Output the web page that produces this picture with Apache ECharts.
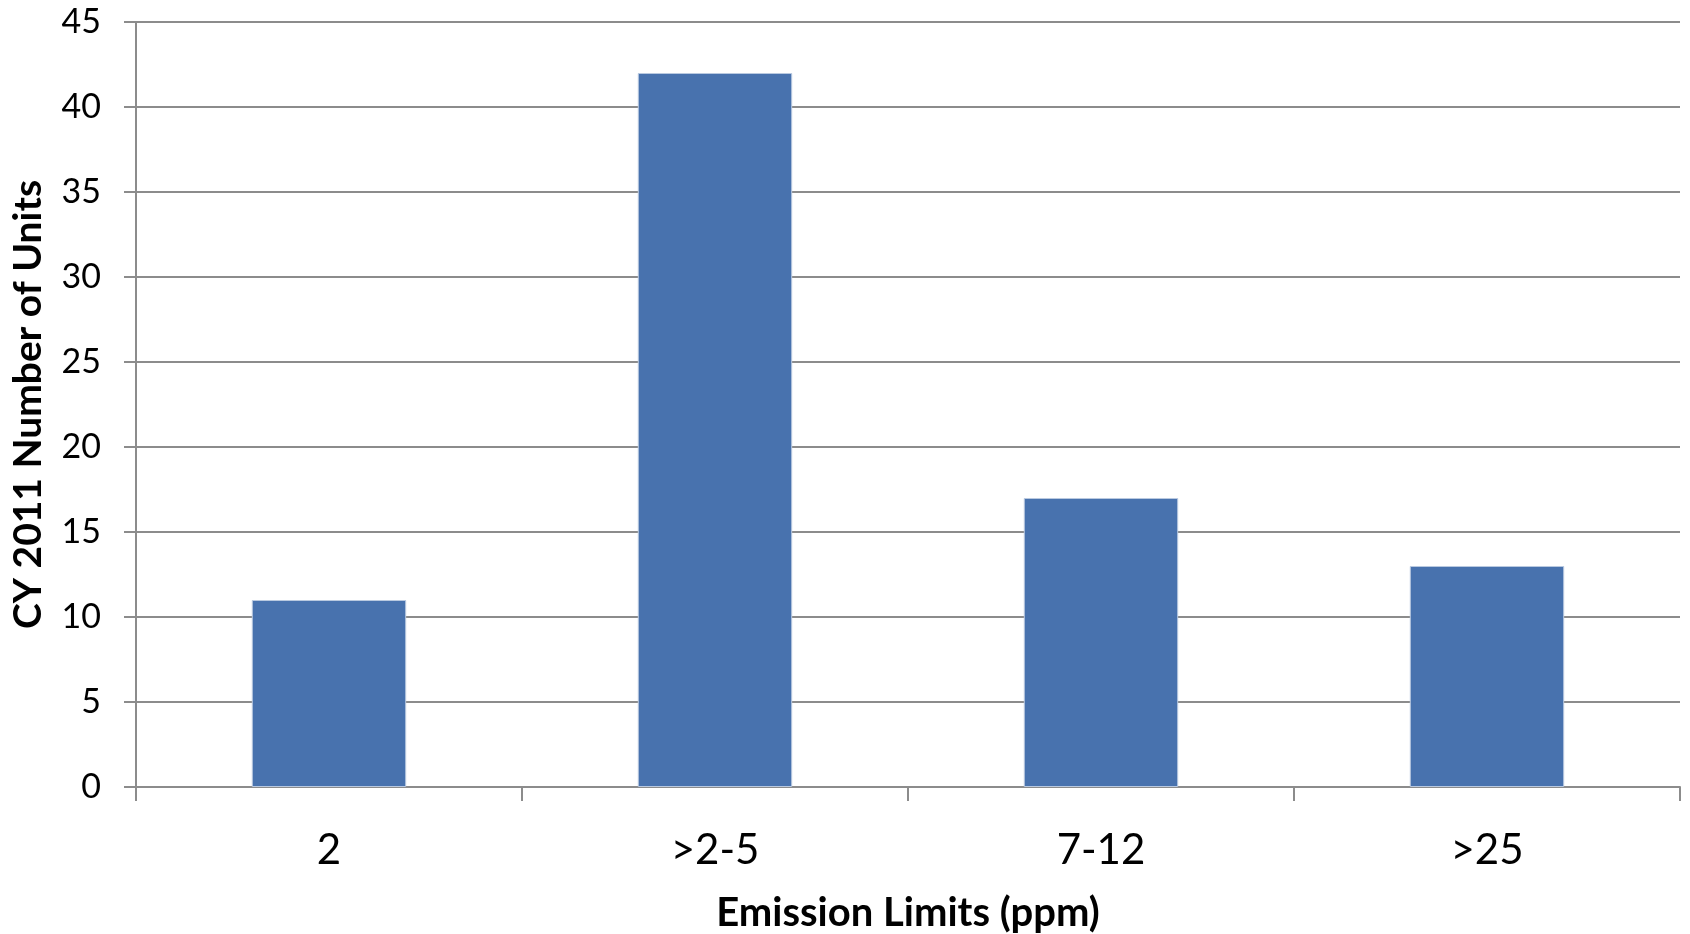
<!DOCTYPE html>
<html>
<head>
<meta charset="utf-8">
<script src="https://cdn.jsdelivr.net/npm/echarts@6/dist/echarts.min.js"></script>
<style>html,body{margin:0;padding:0;background:#fff;}#c{width:1690px;height:934px;}</style>
</head>
<body>
<div id="c"></div>
<script>
var categories = ['2', '>2-5', '7-12', '>25'];
var units = [11, 42, 17, 13];
var yTicks = [0, 5, 10, 15, 20, 25, 30, 35, 40, 45];

var chart = echarts.init(document.getElementById('c'), null, {renderer: 'canvas'});
var font = 'Lato, "Open Sans", sans-serif';
chart.setOption({
  animation: false,
  grid: {left: 136, right: 10, top: 22, bottom: 147, containLabel: false, outerBoundsMode: 'none'},
  xAxis: {
    type: 'category',
    data: categories,
    name: 'Emission Limits (ppm)',
    nameLocation: 'middle',
    nameGap: 106,
    nameTextStyle: {fontFamily: font, fontWeight: 'bold', fontSize: 40, color: '#000'},
    axisLine: {lineStyle: {color: '#8c8c8c', width: 2}},
    axisTick: {show: true, length: 14, lineStyle: {color: '#8c8c8c', width: 2}},
    axisLabel: {fontFamily: font, fontSize: 42, color: '#000', margin: 42}
  },
  yAxis: {
    type: 'value',
    min: yTicks[0],
    max: yTicks[yTicks.length - 1],
    interval: 5,
    name: 'CY 2011 Number of Units',
    nameLocation: 'middle',
    nameGap: 88,
    nameTextStyle: {fontFamily: font, fontWeight: 'bold', fontSize: 39, color: '#000'},
    axisLine: {show: true, lineStyle: {color: '#8c8c8c', width: 2}},
    axisTick: {show: true, length: 12, lineStyle: {color: '#8c8c8c', width: 2}},
    axisLabel: {fontFamily: font, fontSize: 34, color: '#000', margin: 35},
    splitLine: {show: true, lineStyle: {color: '#8c8c8c', width: 2}}
  },
  series: [{
    type: 'bar',
    data: units,
    barWidth: '40%',
    itemStyle: {color: '#4872ae', borderColor: '#b9c9e0', borderWidth: 1}
  }]
});
</script>
</body>
</html>
